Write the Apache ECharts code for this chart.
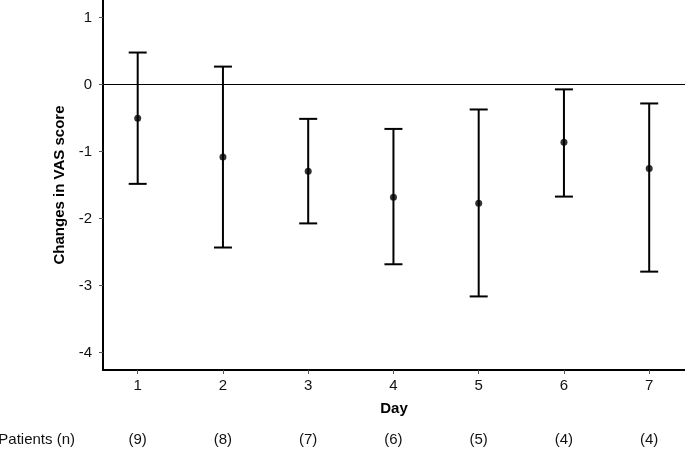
<!DOCTYPE html>
<html>
<head>
<meta charset="utf-8">
<script src="https://cdn.jsdelivr.net/npm/echarts@6/dist/echarts.min.js"></script>
<style>html,body{margin:0;padding:0;background:#fff}#c{width:685px;height:449px}</style>
</head>
<body>
<div id="c"></div>
<script>
var days = [1, 2, 3, 4, 5, 6, 7];
var means = [-0.50, -1.08, -1.29, -1.68, -1.77, -0.86, -1.25];
var lowers = [-1.48, -2.43, -2.07, -2.68, -3.16, -1.67, -2.79];
var uppers = [0.48, 0.27, -0.51, -0.66, -0.37, -0.07, -0.28];
var patients = ['(9)', '(8)', '(7)', '(6)', '(5)', '(4)', '(4)'];
var yTicks = [-4, -3, -2, -1, 0, 1];

var FONT = 'Liberation Sans, Arial, sans-serif';
var chart = echarts.init(document.getElementById('c'), null, {renderer: 'canvas'});

var barData = days.map(function (d, i) { return [d, lowers[i], uppers[i]]; });
var pointData = days.map(function (d, i) { return [d, means[i]]; });

chart.setOption({
  animation: false,
  backgroundColor: '#fff',
  grid: {left: 103, right: 0, top: 0, bottom: 79, containLabel: false, outerBoundsMode: 'none'},
  xAxis: [{
    type: 'value', min: 0.593, max: 7.42,
    name: 'Day', nameLocation: 'middle', nameGap: 31,
    nameTextStyle: {fontFamily: FONT, fontSize: 15, fontWeight: 'bold', color: '#000'},
    axisLine: {onZero: false, lineStyle: {color: '#000', width: 2}},
    axisTick: {customValues: days, length: 4, lineStyle: {color: '#555', width: 1}},
    axisLabel: {customValues: days, margin: 8, fontFamily: FONT, fontSize: 15, color: '#111'},
    splitLine: {show: false}
  }, {
    type: 'value', min: 0.593, max: 7.42, position: 'bottom', offset: 70,
    name: 'Patients (n)', nameLocation: 'start', nameGap: 28,
    nameTextStyle: {fontFamily: FONT, fontSize: 15, color: '#111', verticalAlign: 'middle'},
    axisLine: {show: false, onZero: false},
    axisTick: {show: false},
    axisLabel: {customValues: days, margin: 0, verticalAlign: 'middle', fontFamily: FONT, fontSize: 15, color: '#111',
      formatter: function (v) { var i = days.indexOf(Math.round(v)); return i >= 0 ? patients[i] : ''; }},
    splitLine: {show: false}
  }],
  yAxis: {
    type: 'value', min: -4.258, max: 1.264,
    name: 'Changes in VAS score', nameLocation: 'middle', nameGap: 36,
    nameTextStyle: {fontFamily: FONT, fontSize: 15, fontWeight: 'bold', color: '#000'},
    axisLine: {show: true, onZero: false, lineStyle: {color: '#000', width: 2}},
    axisTick: {show: true, customValues: yTicks, length: 4, lineStyle: {color: '#555', width: 1}},
    axisLabel: {customValues: yTicks, margin: 11, fontFamily: FONT, fontSize: 15, color: '#111'},
    splitLine: {show: false}
  },
  series: [{
    type: 'custom',
    data: barData,
    renderItem: function (params, api) {
      var x = api.value(0);
      var lo = api.coord([x, api.value(1)]);
      var hi = api.coord([x, api.value(2)]);
      var hw = 9;
      var st = {stroke: '#000', lineWidth: 2};
      return {type: 'group', children: [
        {type: 'line', shape: {x1: lo[0], y1: lo[1], x2: hi[0], y2: hi[1]}, style: st},
        {type: 'line', shape: {x1: lo[0] - hw, y1: lo[1], x2: lo[0] + hw, y2: lo[1]}, style: st},
        {type: 'line', shape: {x1: hi[0] - hw, y1: hi[1], x2: hi[0] + hw, y2: hi[1]}, style: st}
      ]};
    },
    markLine: {
      silent: true, symbol: ['none', 'none'], label: {show: false},
      lineStyle: {color: '#000', width: 1, type: 'solid'},
      data: [{yAxis: 0}]
    },
    z: 2
  }, {
    type: 'scatter',
    data: pointData,
    symbol: 'circle', symbolSize: 7,
    itemStyle: {color: '#000'},
    z: 3
  }]
});
</script>
</body>
</html>
